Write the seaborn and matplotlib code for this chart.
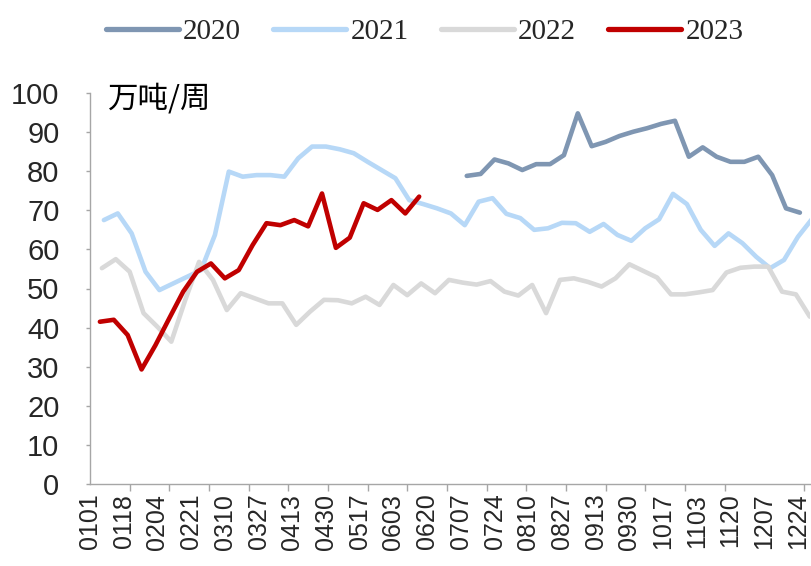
import numpy as np
import pandas as pd
import matplotlib
matplotlib.use('Agg')
import matplotlib.pyplot as plt
import seaborn as sns

# weekly series (friday dates), values in 万吨/周
start_2020 = '2020-07-10'
start_2021 = '2021-01-08'
start_2022 = '2022-01-07'
start_2023 = '2023-01-06'

vals_2020 = [78.8, 79.3, 83.0, 82.0, 80.3, 81.8, 81.8, 84.1, 94.8, 86.4,
             87.5, 89.0, 90.1, 91.0, 92.1, 92.9, 83.7, 86.1, 83.7, 82.4,
             82.4, 83.7, 79.0, 70.5, 69.4]
vals_2021 = [67.5, 69.2, 64.1, 54.3, 49.6, 51.3, 53.0, 54.7, 63.7, 79.9,
             78.6, 79.0, 79.0, 78.6, 83.3, 86.3, 86.3, 85.6, 84.6, 82.4,
             80.3, 78.2, 72.6, 71.6, 70.5, 69.2, 66.2, 72.2, 73.1, 69.1,
             68.0, 65.0, 65.4, 66.8, 66.7, 64.5, 66.5, 63.7, 62.2, 65.4,
             67.7, 74.2, 71.6, 65.0, 60.9, 64.1, 61.6, 58.1, 55.2, 57.3,
             63.2, 67.7]
vals_2022 = [55.2, 57.5, 54.3, 43.7, 40.2, 36.4, 47.0, 56.8, 52.2, 44.5,
             48.8, 47.5, 46.2, 46.2, 40.7, 44.1, 47.1, 47.0, 46.2, 47.9,
             45.8, 50.9, 48.3, 51.3, 48.8, 52.2, 51.5, 51.0, 51.9, 49.2,
             48.2, 50.9, 43.7, 52.2, 52.6, 51.7, 50.5, 52.6, 56.2, 54.5,
             52.8, 48.5, 48.5, 49.0, 49.6, 54.1, 55.3, 55.6, 55.6, 49.2,
             48.5, 42.8]
vals_2023 = [41.5, 42.0, 38.1, 29.3, 35.5, 42.4, 49.2, 54.3, 56.4, 52.6,
             54.7, 61.1, 66.7, 66.2, 67.5, 65.9, 74.3, 60.4, 63.0, 71.8,
             70.1, 72.6, 69.2, 73.5]

years = ['2020', '2021', '2022', '2023']
colors = ['#7f96b2', '#b7d8f7', '#d9d9d9', '#c00000']

x_labels = ['0101', '0118', '0204', '0221', '0310', '0327', '0413', '0430',
            '0517', '0603', '0620', '0707', '0724', '0810', '0827', '0913',
            '0930', '1017', '1103', '1120', '1207', '1224']


def day_of_year(month, day):
    return (pd.Timestamp(2023, month, day) - pd.Timestamp(2023, 1, 1)).days


def build_frame(year, start, vals):
    dates = pd.date_range(start, periods=len(vals), freq='7D')
    days = [day_of_year(d.month, d.day) for d in dates]
    return pd.DataFrame({'day': days, 'value': vals, 'year': year})


df = pd.concat([
    build_frame('2020', start_2020, vals_2020),
    build_frame('2021', start_2021, vals_2021),
    build_frame('2022', start_2022, vals_2022),
    build_frame('2023', start_2023, vals_2023),
], ignore_index=True)

sns.set_style('white')
plt.rcParams['font.family'] = ['Liberation Sans', 'DejaVu Sans']

fig = plt.figure(figsize=(8.12, 5.66), dpi=100)
ax = fig.add_axes([90 / 812, 1 - 484 / 566, 720 / 812, 391 / 566])

sns.lineplot(data=df, x='day', y='value', hue='year', hue_order=years,
             palette=dict(zip(years, colors)), linewidth=3.3,
             estimator=None, ax=ax)

ax.set_xlim(0, 363.1)
ax.set_ylim(0, 100)
ax.set_xlabel('')
ax.set_ylabel('')

grey = '#a6a6a6'
for side in ['top', 'right']:
    ax.spines[side].set_visible(False)
for side in ['left', 'bottom']:
    ax.spines[side].set_color(grey)
    ax.spines[side].set_linewidth(1.0)

label_days = [day_of_year(int(s[:2]), int(s[2:])) for s in x_labels]
ax.set_xticks(label_days)
ax.set_xticklabels(x_labels, rotation=90, fontsize=18)
ax.set_xticks(np.arange(0, 364, 20), minor=True)
ax.tick_params(axis='x', which='major', length=0, pad=7)
ax.tick_params(axis='x', which='minor', length=5, width=1, color=grey,
               direction='out', bottom=True)

ax.set_yticks(np.arange(0, 101, 10))
ax.tick_params(axis='y', length=3, width=1, color=grey, direction='out',
               left=True, labelsize=21, pad=19)

ax.text(0.025, 0.985, '万吨/周', transform=ax.transAxes, ha='left', va='center',
        fontsize=22, family=['Noto Sans CJK SC', 'DejaVu Sans'], color='black')

sns.move_legend(ax, 'center', bbox_to_anchor=(0.523, 0.943),
                bbox_transform=fig.transFigure, ncol=4, frameon=False,
                title=None, handlelength=2.5, handletextpad=0.15,
                columnspacing=1.1, borderpad=0,
                prop={'family': 'Liberation Serif', 'size': 21})
for line in ax.get_legend().get_lines():
    line.set_linewidth(3.8)

fig.savefig('out.png', dpi=100)
